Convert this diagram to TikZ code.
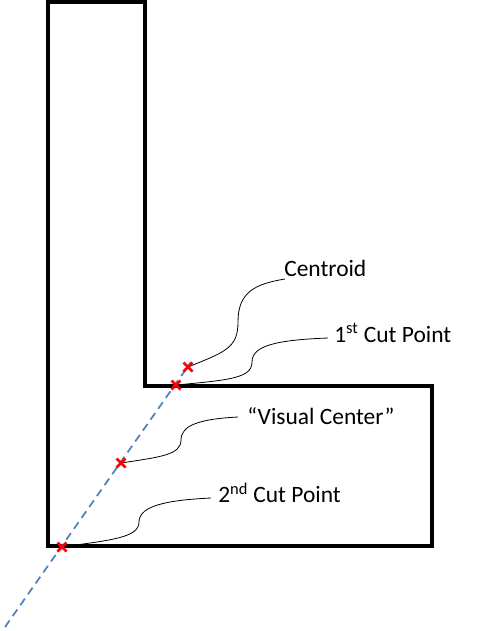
\documentclass[tikz,border=0pt]{standalone}
\usepackage{fontspec}
\setmainfont{Carlito}
\definecolor{dashblue}{RGB}{79,129,189}
\begin{document}
\begin{tikzpicture}[x=0.75pt,y=-0.75pt,
  shapeline/.style={line width=2.3pt,line join=miter},
  leader/.style={line width=0.6pt,black},
  cutline/.style={dashblue,line width=1.3pt,dash pattern=on 6pt off 4pt},
  lbl/.style={font=\fontsize{17.6}{20}\selectfont,inner sep=0pt,anchor=west},
  crossmark/.style={red,line width=2pt}]
\useasboundingbox (0,0) rectangle (482,631);
% L shape
\draw[shapeline] (48,2) -- (145,2) -- (145,386) -- (432,386) -- (432,546) -- (48,546) -- cycle;
% points
\coordinate (cut2) at (62,547);
\coordinate (vis) at (121,463);
\coordinate (cut1) at (176,385);
\coordinate (cen) at (188,367);
\coordinate (lowend) at (5,627);
\coordinate (highend) at (191,362);
\draw[cutline] (lowend) -- (highend);
% labels
\node[lbl] (lcen) at (284,268) {Centroid};
\node[lbl] (lcut1) at (334,333) {1\textsuperscript{st} Cut Point};
\node[lbl] (lvis) at (247,416) {“Visual Center”};
\node[lbl] (lcut2) at (218,493) {2\textsuperscript{nd} Cut Point};
\coordinate (ecen) at (285,279);
\coordinate (ecut1) at (328,338);
\coordinate (evis) at (238,417);
\coordinate (ecut2) at (211,498);
% leaders
\draw[leader] (cen) .. controls (225,352) and (238,348) .. (238,322) .. controls (238,292) and (255,284) .. (ecen);
\draw[leader] (cut1) .. controls (230,380) and (252,378) .. (252,362) .. controls (252,346) and (275,340) .. (ecut1);
\draw[leader] (vis) .. controls (160,457) and (181,455) .. (181,440) .. controls (181,425) and (200,419) .. (evis);
\draw[leader] (cut2) .. controls (110,540) and (139,538) .. (139,522) .. controls (139,505) and (170,500) .. (ecut2);
% crosses
\foreach \p in {cut2,vis,cut1,cen}{
  \draw[crossmark] ([shift={(-4.5,-4.5)}]\p) -- ([shift={(4.5,4.5)}]\p);
  \draw[crossmark] ([shift={(-4.5,4.5)}]\p) -- ([shift={(4.5,-4.5)}]\p);
}
\end{tikzpicture}
\end{document}
